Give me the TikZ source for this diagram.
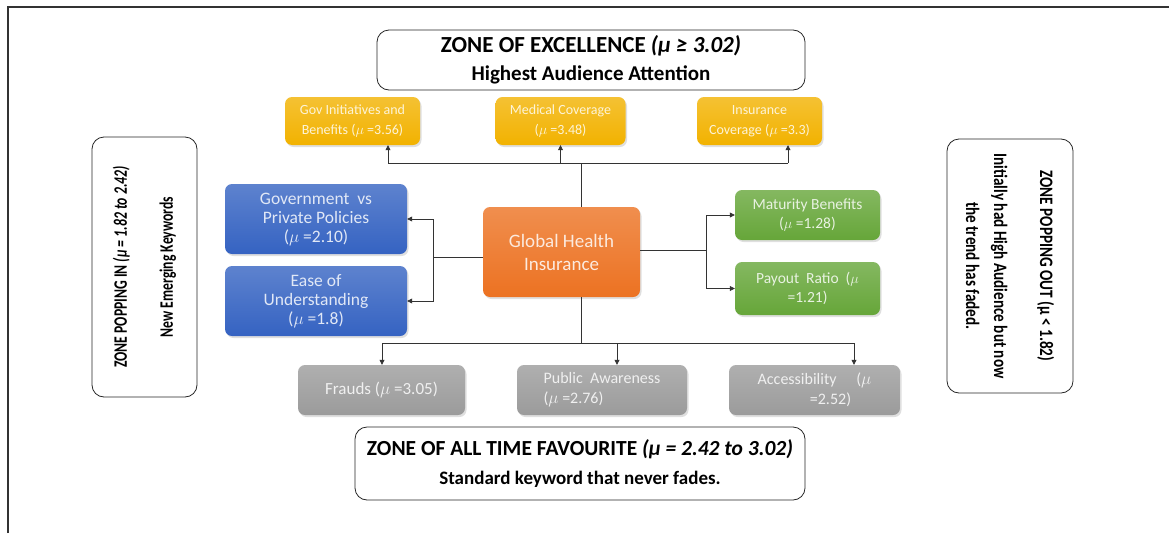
\documentclass[tikz,border=0pt]{standalone}
\usepackage{fontspec}
\usepackage{graphicx}
\setmainfont{Carlito}
\usetikzlibrary{arrows.meta,shadows}
\newcommand{\squeeze}[2][0.72]{\scalebox{#1}[1]{#2}}
\colorlet{branch color}{black!80}
\definecolor{excellence color}{HTML}{F2B200}
\definecolor{popping in color}{HTML}{3563C2}
\definecolor{centre color}{HTML}{EC7222}
\definecolor{popping out color}{HTML}{66A639}
\definecolor{favourite color}{HTML}{9B9B9B}
\tikzset{
    x={1pt},
    y={-1pt},
    frame/.style={
        draw=black!80,
        line width={1.5pt},
    },
    zone/.style={
        draw=black!85, fill=white,
        rounded corners={12pt},
        line width={0.8pt},
        align=center,
        inner sep=0pt,
    },
    keyword/.style={
        top color={#1!80!white}, bottom color={#1},
        rounded corners={7pt},
        align=center,
        text={#1!15!white},
        inner sep=2pt,
        drop shadow={opacity=0.25, shadow xshift=1.5pt, shadow yshift=-2pt},
    },
    branch/.style={
        draw=branch color,
        line width={0.7pt},
    },
    arrow branch/.style={
        branch,
        -{Triangle[length=5pt,width=5pt]},
    },
}

\begin{document}
\begin{tikzpicture}
\useasboundingbox (0,0) rectangle (1169,533);
\draw[frame] (8,533) -- (8,7) -- (1169,7);
% zones
\node[zone, minimum width={428}, minimum height={60}, font=\bfseries\fontsize{21}{28}\selectfont] (excellence) at (591,60) {{\fontsize{23}{28}\selectfont ZONE OF EXCELLENCE \textit{(μ ≥ 3.02)}}\\Highest Audience Attention};
\node[zone, minimum width={450}, minimum height={73}, font=\bfseries\fontsize{19}{29}\selectfont] (favourite) at (580,463.5) {{\fontsize{21.5}{29}\selectfont ZONE OF ALL TIME FAVOURITE \textit{(μ = 2.42 to 3.02)}}\\Standard keyword that never fades.};
\node[zone, rotate=90, minimum width={260}, minimum height={105}, font=\bfseries\fontsize{19}{30}\selectfont] (popping in) at (144.5,267) {\squeeze{ZONE POPPING IN \textit{(μ = 1.82 to 2.42)}}\\[16pt]\squeeze{New Emerging Keywords}};
\node[zone, rotate=-90, minimum width={254}, minimum height={126}, font=\bfseries\fontsize{19}{30}\selectfont] (popping out) at (1010,266) {\squeeze[0.8]{ZONE POPPING OUT (μ < 1.82)}\\[16pt]\squeeze[0.8]{Initially had High Audience but now}\\[-2pt]\squeeze[0.8]{the trend has faded.}};
% keywords
\node[keyword={centre color}, minimum width={157}, minimum height={90}, font=\fontsize{19}{23}\selectfont] (centre) at (561.5,252) {Global Health\\Insurance};
\node[keyword={excellence color}, minimum width={135}, minimum height={48}, font=\fontsize{14}{20}\selectfont] (gov) at (352.5,121) {Gov Initiatives and\\Benefits ($\mu$ =3.56)};
\node[keyword={excellence color}, minimum width={130}, minimum height={48}, font=\fontsize{14}{20}\selectfont] (medical) at (560.5,121) {Medical Coverage\\($\mu$ =3.48)};
\node[keyword={excellence color}, minimum width={125}, minimum height={48}, font=\fontsize{14}{20}\selectfont] (insurance) at (759.5,121) {Insurance\\Coverage ($\mu$ =3.3)};
\node[keyword={popping in color}, minimum width={182}, minimum height={70}, font=\fontsize{17.5}{19}\selectfont] (policies) at (316,219) {Government\ \ vs\\Private Policies\\($\mu$ =2.10)};
\node[keyword={popping in color}, minimum width={182}, minimum height={70}, font=\fontsize{17.5}{19}\selectfont] (ease) at (316,301) {Ease of\\Understanding\\($\mu$ =1.8)};
\node[keyword={popping out color}, minimum width={145}, minimum height={50}, font=\fontsize{15.5}{19}\selectfont] (maturity) at (807.5,215) {Maturity Benefits\\($\mu$ =1.28)};
\node[keyword={popping out color}, minimum width={145}, minimum height={53}, font=\fontsize{15.5}{19}\selectfont] (payout) at (807.5,288.5) {Payout\ \ Ratio\ \ ($\mu$\\=1.21)};
\node[keyword={favourite color}, minimum width={167}, minimum height={50}, font=\fontsize{17}{20}\selectfont] (frauds) at (381.5,390) {Frauds ($\mu$ =3.05)};
\node[keyword={favourite color}, minimum width={170}, minimum height={50}, font=\fontsize{16}{20}\selectfont, align=left] (awareness) at (602,390) {Public\ \ Awareness\\($\mu$ =2.76)};
\node[keyword={favourite color}, minimum width={171}, minimum height={50}, font=\fontsize{16}{20}\selectfont] (accessibility) at (814.5,390) {Accessibility\quad\ ($\mu$\\\hspace*{2em}=2.52)};
% branches
\coordinate (up joint) at (581,163);
\coordinate (up left) at (388,163);
\coordinate (up right) at (788,163);
\path[branch] (centre.north -| up joint) -- (up joint);
\path[branch] (up left) -- (up right);
\path[arrow branch] (up left) -- (up left |- gov.south);
\path[arrow branch] (up joint -| medical) -- (medical.south);
\path[arrow branch] (up right) -- (up right |- insurance.south);
\coordinate (left joint) at (433,257);
\path[branch] (centre.west |- left joint) -- (left joint);
\path[arrow branch] (left joint) |- (policies.east);
\path[arrow branch] (left joint) |- (ease.east);
\coordinate (right joint) at (706,250);
\path[branch] (centre.east |- right joint) -- (right joint);
\path[arrow branch] (right joint) |- (maturity.west);
\path[arrow branch] (right joint) |- (payout.west);
\coordinate (down joint) at (581,343);
\coordinate (down left) at (382,343);
\coordinate (down mid) at (617,343);
\coordinate (down right) at (854,343);
\path[branch] (centre.south -| down joint) -- (down joint);
\path[branch] (down left) -- (down right);
\path[arrow branch] (down left) -- (down left |- frauds.north);
\path[arrow branch] (down mid) -- (down mid |- awareness.north);
\path[arrow branch] (down right) -- (down right |- accessibility.north);
\end{tikzpicture}
\end{document}
